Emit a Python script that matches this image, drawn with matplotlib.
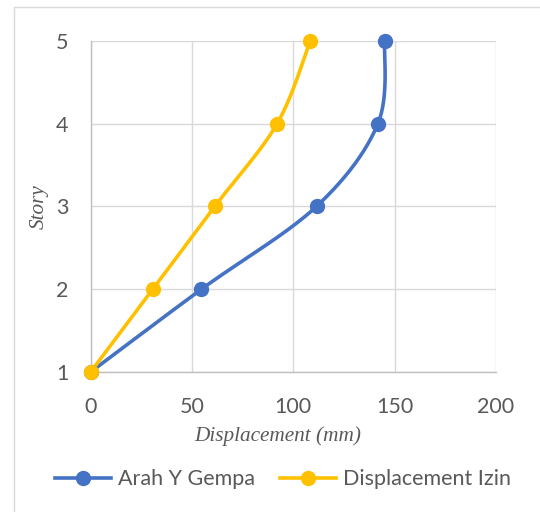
import numpy as np
import matplotlib
matplotlib.use("Agg")
import matplotlib.pyplot as plt
from matplotlib.patches import Rectangle

# story levels and displacement (mm) per series
stories = [1, 2, 3, 4, 5]
arah_y_gempa = [0, 54.7, 111.5, 141.8, 145.1]
displacement_izin = [0, 30.7, 61.3, 92.1, 108.4]

x_ticks = [0, 50, 100, 150, 200]
y_ticks = [1, 2, 3, 4, 5]

BLUE = "#4472C4"
GOLD = "#FFC000"
TEXT = "#595959"


def smooth_curve(xs, ys, sx, sy, n=40):
    # Catmull-Rom style bezier through the points, computed in pixel space
    px = np.asarray(xs, float) * sx
    py = np.asarray(ys, float) * sy
    pts = np.column_stack([px, py])
    ext = np.vstack([pts[0], pts, pts[-1]])
    out = []
    t = np.linspace(0, 1, n)[:, None]
    for i in range(len(pts) - 1):
        p0, p1, p2, p3 = ext[i], ext[i + 1], ext[i + 2], ext[i + 3]
        c1 = p1 + (p2 - p0) / 6.0
        c2 = p2 - (p3 - p1) / 6.0
        seg = ((1 - t) ** 3) * p1 + 3 * ((1 - t) ** 2) * t * c1 \
            + 3 * (1 - t) * t ** 2 * c2 + t ** 3 * p2
        out.append(seg if i == 0 else seg[1:])
    out = np.vstack(out)
    return out[:, 0] / sx, out[:, 1] / sy


fig = plt.figure(figsize=(5.4, 5.12), dpi=100)
fig.patches.append(Rectangle((14 / 540, -0.2), 1.2, 1.2 - 7 / 512,
                             transform=fig.transFigure, fill=False,
                             edgecolor="#D9D9D9", linewidth=1.0))

ax = fig.add_axes([0.1678, 0.2734, 0.7505, 0.6471])
ax.set_xlim(0, 200)
ax.set_ylim(1, 5)

# pixel scales so smoothing follows the drawn shape
sx = 405.3 / 200
sy = 331.3 / 4

for vals, color, label in [(arah_y_gempa, BLUE, "Arah Y Gempa"),
                           (displacement_izin, GOLD, "Displacement Izin")]:
    cx, cy = smooth_curve(vals, stories, sx, sy)
    ax.plot(cx, cy, color=color, linewidth=2.6, solid_capstyle="round",
            zorder=3, clip_on=False)
    ax.plot(vals, stories, "o", color=color, markersize=10, zorder=4,
            clip_on=False)
    ax.plot([], [], color=color, linewidth=2.6, marker="o", markersize=10,
            label=label)

ax.set_xticks(x_ticks)
ax.set_yticks(y_ticks)
ax.grid(True, color="#D9D9D9", linewidth=1.0)
ax.set_axisbelow(True)
for side in ["top", "right"]:
    ax.spines[side].set_visible(False)
for side in ["left", "bottom"]:
    ax.spines[side].set_color("#BFBFBF")
    ax.spines[side].set_linewidth(1.0)

ax.tick_params(axis="both", length=0, labelsize=15.5, labelcolor=TEXT)
ax.tick_params(axis="y", pad=16)
ax.tick_params(axis="x", pad=18)
for lab in ax.get_xticklabels() + ax.get_yticklabels():
    lab.set_fontfamily("Lato")

ax.set_xlabel("Displacement (mm)", family="Liberation Serif", style="italic",
              fontsize=15.3, color=TEXT, labelpad=6)
ax.xaxis.set_label_coords(0.462, -0.163)
ax.set_ylabel("Story", family="Liberation Serif", style="italic",
              fontsize=15.3, color=TEXT, labelpad=5)

leg = fig.legend(loc="center", bbox_to_anchor=(0.524, 0.064), ncol=2,
                 frameon=False, handlelength=2.6, columnspacing=1.2,
                 handletextpad=0.3,
                 prop={"family": "Lato", "size": 15.5})
for t in leg.get_texts():
    t.set_color(TEXT)

fig.savefig("out.png", dpi=100)
